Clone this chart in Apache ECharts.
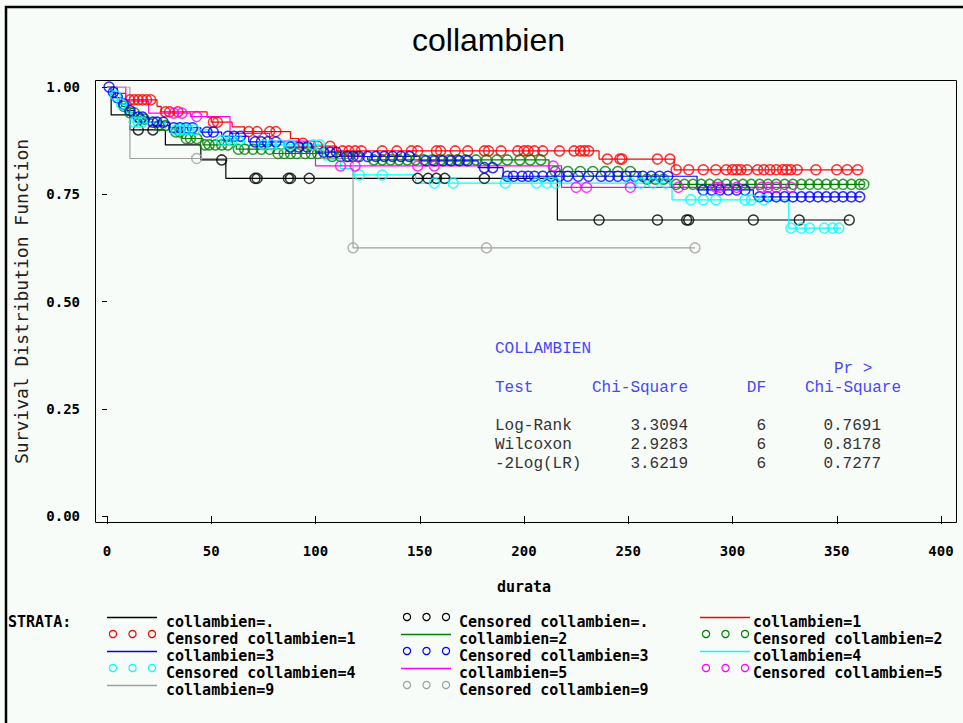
<!DOCTYPE html>
<html><head><meta charset="utf-8">
<script src="https://cdn.jsdelivr.net/npm/echarts@6/dist/echarts.min.js"></script>
<style>html,body{margin:0;padding:0;background:#f7fcf9}#c{width:963px;height:723px}</style>
</head><body><div id="c"></div>
<script>
// ---------- data ----------
const chartTitle = 'collambien';
const xAxisName = 'durata';
const yAxisName = 'Survival Distribution Function';
const xMin = 0, xMax = 400, xStep = 50;
const yMin = 0, yMax = 1, yStep = 0.25;

const strataNames = ['collambien=.', 'collambien=1', 'collambien=2', 'collambien=3', 'collambien=4', 'collambien=5', 'collambien=9'];

// step curves (time, survival) and censored times per stratum
const stepT_miss = [0, 2, 11, 28, 45, 57, 216, 356];
const stepS_miss = [1, 0.935, 0.900, 0.865, 0.830, 0.787, 0.690, 0.690];
const cens_miss = [15, 22, 55, 71, 72, 87, 88, 97, 149, 154, 158, 162, 181, 236, 264, 278, 279, 310, 332, 356];

const stepT_1 = [0, 5, 9, 24, 26, 48, 50, 60, 66, 88, 92, 98, 110, 236, 272, 362];
const stepS_1 = [1, 0.985, 0.970, 0.955, 0.942, 0.930, 0.918, 0.907, 0.896, 0.880, 0.869, 0.862, 0.851, 0.832, 0.807, 0.807];
const cens_1 = [11, 13, 15, 17, 19, 21, 28, 30, 34, 51, 53, 68, 72, 78, 81, 94, 101, 107, 113, 116, 119, 122, 132, 139, 146, 149, 158, 160, 167, 173, 181, 183, 189, 197, 200, 202, 205, 209, 217, 224, 227, 229, 231, 240, 246, 247, 264, 270, 273, 279, 286, 292, 297, 300, 302, 304, 307, 312, 315, 318, 321, 324, 326, 328, 331, 340, 350, 355, 360];

const stepT_2 = [0, 3, 7, 10, 14, 22, 30, 36, 46, 62, 80, 105, 125, 212, 256, 270, 363];
const stepS_2 = [1, 0.975, 0.955, 0.940, 0.925, 0.910, 0.895, 0.880, 0.865, 0.855, 0.845, 0.838, 0.830, 0.803, 0.785, 0.773, 0.773];
const cens_2 = [8, 11, 13, 16, 18, 25, 28, 33, 35, 38, 40, 43, 47, 49, 52, 55, 58, 63, 66, 70, 74, 78, 82, 85, 88, 91, 95, 98, 101, 108, 112, 116, 120, 128, 132, 136, 140, 144, 148, 152, 156, 160, 164, 168, 172, 177, 182, 187, 192, 198, 203, 208, 215, 221, 227, 233, 239, 245, 251, 259, 263, 267, 273, 277, 281, 285, 289, 293, 297, 301, 305, 309, 313, 317, 321, 325, 329, 333, 337, 341, 345, 349, 353, 357, 361, 363];

const stepT_3 = [0, 2, 4, 6, 9, 13, 20, 30, 45, 55, 68, 85, 100, 112, 150, 178, 190, 283, 310, 362];
const stepS_3 = [1, 0.988, 0.975, 0.960, 0.945, 0.930, 0.918, 0.905, 0.895, 0.885, 0.872, 0.860, 0.848, 0.838, 0.828, 0.812, 0.792, 0.760, 0.744, 0.744];
const cens_3 = [1, 3, 5, 8, 11, 15, 17, 22, 24, 27, 32, 35, 38, 41, 48, 51, 58, 61, 64, 71, 74, 77, 81, 88, 92, 96, 104, 107, 110, 115, 118, 121, 125, 129, 133, 137, 141, 145, 153, 157, 161, 165, 169, 173, 181, 185, 192, 195, 199, 202, 205, 209, 213, 217, 221, 226, 231, 237, 241, 245, 249, 253, 257, 261, 265, 269, 286, 290, 294, 298, 302, 306, 313, 317, 321, 325, 329, 333, 337, 341, 345, 349, 353, 357, 361];

const stepT_4 = [0, 2, 5, 9, 12, 28, 50, 66, 104, 112, 118, 148, 271, 327, 352];
const stepS_4 = [1, 0.980, 0.960, 0.940, 0.918, 0.900, 0.875, 0.865, 0.830, 0.810, 0.795, 0.776, 0.737, 0.671, 0.671];
const cens_4 = [4, 7, 13, 15, 17, 33, 35, 37, 39, 42, 55, 57, 60, 63, 75, 79, 83, 88, 99, 102, 121, 132, 157, 166, 191, 206, 211, 215, 251, 256, 262, 268, 280, 286, 292, 306, 309, 315, 328, 333, 337, 344, 348, 351];

const stepT_5 = [0, 9, 20, 40, 59, 78, 100, 218, 328];
const stepS_5 = [1, 0.967, 0.939, 0.931, 0.892, 0.874, 0.816, 0.766, 0.766];
const cens_5 = [32, 36, 43, 112, 119, 149, 157, 214, 225, 230, 251, 274, 292, 294, 302, 314, 317, 321, 328];

const stepT_9 = [0, 11, 118, 282];
const stepS_9 = [1, 0.8333, 0.625, 0.625];
const cens_9 = [43, 118, 182, 282];

// test table
const tableTitle = 'COLLAMBIEN';
const tableHead = ['Test', 'Chi-Square', 'DF', 'Chi-Square'];
const tableHeadTop = 'Pr >';
const testNames = ['Log-Rank', 'Wilcoxon', '-2Log(LR)'];
const chiSquare = ['3.3094', '2.9283', '3.6219'];
const dfs = ['6', '6', '6'];
const pValues = ['0.7691', '0.8178', '0.7277'];
const legendHeader = 'STRATA:';

// ---------- styles ----------
const colors = ['#000000', '#ff0000', '#008000', '#0000ff', '#00ffff', '#ff00ff', '#a0a0a0'];
const stepTs = [stepT_miss, stepT_1, stepT_2, stepT_3, stepT_4, stepT_5, stepT_9];
const stepSs = [stepS_miss, stepS_1, stepS_2, stepS_3, stepS_4, stepS_5, stepS_9];
const censs = [cens_miss, cens_1, cens_2, cens_3, cens_4, cens_5, cens_9];

function survAt(ts, ss, t) {
  let v = ss[0];
  for (let i = 0; i < ts.length; i++) { if (ts[i] <= t) v = ss[i]; }
  return v;
}

const series = [];
strataNames.forEach((nm, i) => {
  series.push({
    name: nm, type: 'line', step: 'end', showSymbol: false, symbol: 'none',
    data: stepTs[i].map((t, j) => [t, stepSs[i][j]]),
    lineStyle: { color: colors[i], width: 1.2 }, itemStyle: { color: colors[i] },
    z: 2 + i * 0.01, animation: false, silent: true
  });
  series.push({
    name: 'Censored ' + nm, type: 'scatter', symbol: 'circle', symbolSize: 10,
    data: censs[i].map(t => [t, survAt(stepTs[i], stepSs[i], t)]),
    itemStyle: { color: 'rgba(0,0,0,0)', borderColor: colors[i], borderWidth: 1.5 },
    z: 3 + i * 0.01, animation: false, silent: true
  });
});

// ---------- graphics: frame, border, legend, table ----------
const mono = 'DejaVu Sans Mono';
const legFont = 'bold 15px "' + mono + '"';
const graphics = [];
graphics.push({ type: 'polyline', shape: { points: [[6, 723], [6, 7], [963, 7]] }, style: { stroke: '#000', lineWidth: 2.5, fill: null }, z: 10 });
graphics.push({ type: 'rect', shape: { x: 95.5, y: 80.5, width: 861, height: 442 }, style: { stroke: '#000', lineWidth: 1, fill: null }, z: 1 });

graphics.push({ type: 'text', x: 8, y: 622, style: { text: legendHeader, font: legFont, lineHeight: 14, fill: '#000', align: 'left', verticalAlign: 'middle' }, z: 10 });
const legendItems = [];
strataNames.forEach((nm, i) => {
  legendItems.push({ kind: 'line', name: nm, color: colors[i] });
  legendItems.push({ kind: 'cens', name: 'Censored ' + nm, color: colors[i] });
});
const colSym = [107, 401, 700], colText = [166, 459, 753];
legendItems.forEach((it, k) => {
  const row = Math.floor(k / 3), col = k % 3;
  const ty = 622 + 17 * row, sy = ty - 5;
  const sx = colSym[col];
  if (it.kind === 'line') {
    graphics.push({ type: 'line', shape: { x1: sx, y1: sy + 0.5, x2: sx + 50, y2: sy + 0.5 }, style: { stroke: it.color, lineWidth: 1.3 }, z: 10 });
  } else {
    [6, 25.5, 45].forEach(dx => {
      graphics.push({ type: 'circle', shape: { cx: sx + dx, cy: sy, r: 3.6 }, style: { stroke: it.color, lineWidth: 1.2, fill: null }, z: 10 });
    });
  }
  graphics.push({ type: 'text', x: colText[col], y: ty, style: { text: it.name, font: legFont, lineHeight: 14, fill: '#000', align: 'left', verticalAlign: 'middle' }, z: 10 });
});

const tf = '16px "Liberation Mono"';
const blue = '#4646ff', dark = '#333333';
function txt(s, x, y, align, fill) {
  graphics.push({ type: 'text', x: x, y: y, style: { text: s, font: tf, fill: fill, align: align, verticalAlign: 'middle' }, z: 10 });
}
txt(tableTitle, 495, 349, 'left', blue);
txt(tableHeadTop, 834, 369, 'left', blue);
txt(tableHead[0], 495, 388, 'left', blue);
txt(tableHead[1], 688, 388, 'right', blue);
txt(tableHead[2], 766, 388, 'right', blue);
txt(tableHead[3], 901, 388, 'right', blue);
testNames.forEach((n, i) => {
  const y = 426 + 19 * i;
  txt(n, 495, y, 'left', dark);
  txt(chiSquare[i], 688, y, 'right', dark);
  txt(dfs[i], 766, y, 'right', dark);
  txt(pValues[i], 881, y, 'right', dark);
});

const chart = echarts.init(document.getElementById('c'), null, { renderer: 'svg' });
chart.setOption({
  backgroundColor: '#f7fcf9',
  animation: false,
  title: { text: chartTitle, left: 407, top: 19, textStyle: { fontFamily: 'Liberation Sans', fontSize: 32, fontWeight: 'normal', color: '#000' } },
  grid: { left: 107, right: 22, top: 87, bottom: 207, containLabel: false },
  xAxis: {
    type: 'value', min: xMin, max: xMax, interval: xStep, offset: 6,
    name: xAxisName, nameLocation: 'middle', nameGap: 57,
    nameTextStyle: { fontFamily: mono, fontWeight: 'bold', fontSize: 15, color: '#000' },
    axisLine: { show: false }, splitLine: { show: false },
    axisTick: { show: true, length: 8, lineStyle: { color: '#000', width: 1 } },
    axisLabel: { margin: 22, fontFamily: mono, fontWeight: 'bold', fontSize: 14, color: '#000' }
  },
  yAxis: {
    type: 'value', min: yMin, max: yMax, interval: yStep, offset: 12,
    name: yAxisName, nameLocation: 'middle', nameGap: 65,
    nameTextStyle: { fontFamily: mono, fontSize: 18, color: '#222' },
    axisLine: { show: false }, splitLine: { show: false },
    axisTick: { show: true, length: 5, lineStyle: { color: '#000', width: 1 } },
    axisLabel: { margin: 15, fontFamily: mono, fontWeight: 'bold', fontSize: 14, color: '#000', formatter: v => v.toFixed(2) }
  },
  series: series,
  graphic: { elements: graphics }
});
</script></body></html>
